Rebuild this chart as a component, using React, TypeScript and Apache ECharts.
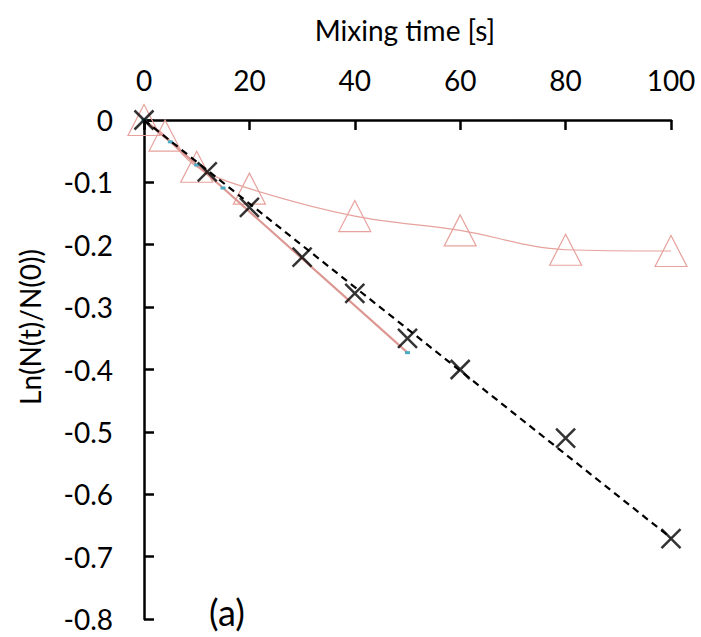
import React, { useEffect, useRef } from "react";
import * as echarts from "echarts";

// Triangles (smooth pink curve)
const timeTri = [0, 4, 10, 20, 40, 60, 80, 100];
const lnTri = [0, -0.025, -0.075, -0.11, -0.154, -0.177, -0.208, -0.21];
// Crosses
const timeCross = [0, 12, 20, 30, 40, 50, 60, 80, 100];
const lnCross = [0, -0.083, -0.14, -0.22, -0.278, -0.35, -0.4, -0.51, -0.671];
// Straight pink line with small cyan markers
const timeFit = [0, 5, 10, 15, 50];
const lnFit = [0, -0.035, -0.072, -0.109, -0.373];
// Dashed linear trend
const timeTrend = [0, 100];
const lnTrend = [0, -0.67];

const xTicks = [0, 20, 40, 60, 80, 100];

const FONT = "Lato";
const PINK = "#e6a29d";

const zip = (a: number[], b: number[]) => a.map((v, i) => [v, b[i]]);

export default function App() {
  const ref = useRef<HTMLDivElement>(null);
  useEffect(() => {
    if (!ref.current) return;
    const chart = echarts.init(ref.current, undefined, { renderer: "svg" });
    chart.setOption({
      animation: false,
      backgroundColor: "#ffffff",
      textStyle: { fontFamily: FONT },
      grid: { left: 144, top: 120, right: 30, bottom: 18, containLabel: false },
      xAxis: {
        type: "value",
        position: "top",
        min: xTicks[0],
        max: xTicks[xTicks.length - 1],
        interval: 20,
        axisLine: { show: true, onZero: false, lineStyle: { color: "#000", width: 2.5 } },
        axisTick: { show: true, inside: true, length: 10, lineStyle: { color: "#000", width: 2.5 } },
        axisLabel: { color: "#000", fontSize: 28, fontFamily: FONT, margin: 26 },
        splitLine: { show: false },
      },
      yAxis: {
        type: "value",
        min: -0.8,
        max: 0,
        interval: 0.1,
        axisLine: { show: true, onZero: false, lineStyle: { color: "#000", width: 2.5 } },
        axisTick: { show: true, inside: true, length: 10, lineStyle: { color: "#000", width: 2.5 } },
        axisLabel: {
          color: "#000",
          fontSize: 28,
          fontFamily: FONT,
          margin: 31,
          formatter: (v: number) => String(Math.round(v * 10) / 10 || 0),
        },
        splitLine: { show: false },
      },
      graphic: [
        {
          type: "text",
          x: 405,
          y: 30,
          style: {
            text: "Mixing time [s]",
            fontSize: 28,
            fontFamily: FONT,
            fill: "#000",
            align: "center",
            verticalAlign: "middle",
          },
        },
        {
          type: "text",
          x: 30,
          y: 327,
          rotation: Math.PI / 2,
          style: {
            text: "Ln(N(t)/N(0))",
            fontSize: 28,
            fontFamily: FONT,
            fill: "#000",
            align: "center",
            verticalAlign: "middle",
          },
        },
        {
          type: "text",
          x: 209,
          y: 612,
          style: {
            text: "(a)",
            fontSize: 36,
            fontFamily: FONT,
            fill: "#000",
            align: "left",
            verticalAlign: "middle",
          },
        },
      ],
      series: [
        {
          type: "line",
          data: zip(timeTri, lnTri),
          smooth: 0.35,
          symbol: "triangle",
          symbolSize: [32, 31],
          showSymbol: true,
          lineStyle: { color: PINK, width: 1.2 },
          itemStyle: { color: "rgba(255,255,255,0)", borderColor: PINK, borderWidth: 1.2 },
          z: 2,
        },
        {
          type: "line",
          data: zip(timeFit, lnFit),
          symbol: "rect",
          symbolSize: [5, 3],
          showSymbol: true,
          lineStyle: { color: "#dd9893", width: 2.2 },
          itemStyle: { color: "#4bacc6" },
          z: 3,
        },
        {
          type: "line",
          data: zip(timeTrend, lnTrend),
          symbol: "none",
          lineStyle: { color: "#000", width: 2.2, type: [7, 5] },
          z: 4,
        },
        {
          type: "scatter",
          data: zip(timeCross, lnCross),
          symbol: "path://M0,0L10,10M10,0L0,10",
          symbolSize: 19,
          itemStyle: { color: "none", borderColor: "#000", borderWidth: 2.5 },
          z: 5,
        },
      ],
    });
    return () => chart.dispose();
  }, []);
  return (
    <div
      ref={ref}
      style={{ position: "absolute", left: 0, top: 0, width: 701, height: 637, background: "#fff" }}
    />
  );
}
